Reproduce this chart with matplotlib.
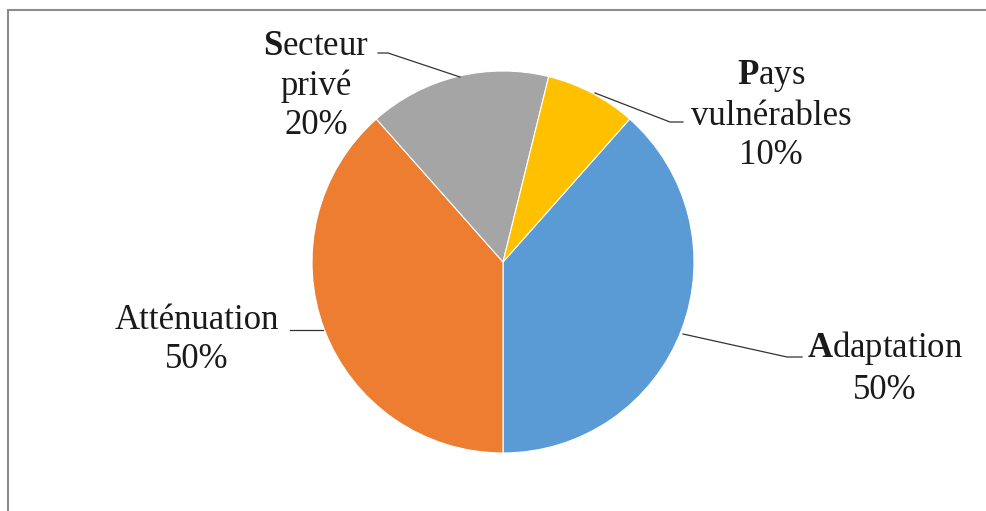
import matplotlib
matplotlib.use("Agg")
import matplotlib.pyplot as plt
from matplotlib.patches import Rectangle

# Data
labels = ["Adaptation", "Atténuation", "Secteur privé", "Pays vulnérables"]
label_text = ["$\\mathbf{A}$daptation\n50%", "Atténuation\n50%",
              "$\\mathbf{S}$ecteur\nprivé\n20%", "$\\mathbf{P}$ays\nvulnérables\n10%"]
values = [50, 50, 20, 10]
colors = ["#5B9BD5", "#ED7D31", "#A5A5A5", "#FFC000"]

plt.rcParams["mathtext.fontset"] = "custom"
plt.rcParams["mathtext.rm"] = "Liberation Serif"
plt.rcParams["mathtext.bf"] = "Liberation Serif:bold"
plt.rcParams["font.family"] = ["Liberation Serif", "DejaVu Serif"]

W, H = 987, 511
fig = plt.figure(figsize=(W / 100, H / 100), dpi=100)
ax = fig.add_axes([0, 0, 1, 1])

# chart frame
fig.patches.append(Rectangle((8 / W, -0.1), 1.2, (H - 10) / H + 0.1, transform=fig.transFigure,
                             fill=False, edgecolor="#8c8c8c", linewidth=1.5))

total = sum(values)
start = -90 + 360 * values[0] / total
cx, cy, r = 503, H - 262, 191
ax.pie(values, colors=colors, startangle=start, counterclock=False, center=(cx, cy), radius=r,
       wedgeprops=dict(edgecolor="white", linewidth=0.8), frame=True)
ax.set_xlim(0, W)
ax.set_ylim(0, H)
ax.set_aspect("equal")
ax.axis("off")

def py(y):
    return H - y

# label positions (pixel coords, centre of text block) and leader lines
text_pos = [(885, 368), (197, 340), (316, 86), (771, 115)]
leaders = [
    [(683, 334), (787, 357), (802, 357)],
    [(323, 330), (290, 330)],
    [(460, 77), (388, 53), (378, 53)],
    [(595, 93), (670, 122), (683, 122)],
]
for t, (x, y), pts in zip(label_text, text_pos, leaders):
    ax.text(x, py(y), t, ha="center", va="center", fontsize=25, color="#1a1a1a",
            linespacing=1.25, multialignment="center")
    ax.plot([p[0] for p in pts], [py(p[1]) for p in pts], color="#333333", linewidth=0.9)

fig.savefig("out.png", dpi=100)
